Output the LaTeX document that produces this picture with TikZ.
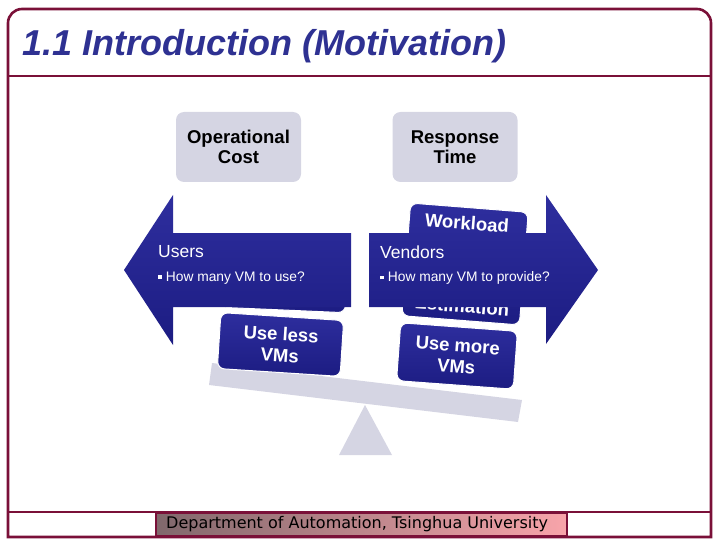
\documentclass[tikz,border=0pt]{standalone}
\usepackage{fontspec}
\setmainfont{Liberation Sans}
\newfontfamily\footfont{DejaVu Sans}
\definecolor{frameC}{RGB}{122,16,56}
\definecolor{titleC}{RGB}{46,49,146}
\definecolor{blueTop}{RGB}{46,46,158}
\definecolor{blueBot}{RGB}{28,28,130}
\definecolor{grayC}{RGB}{213,213,227}
\definecolor{footL}{RGB}{128,104,108}
\definecolor{footR}{RGB}{248,164,170}
\tikzset{
  frameline/.style={draw=frameC, line width=2.6pt},
  graybox/.style={fill=grayC, rounded corners=8pt, minimum width=125pt, minimum height=70pt,
    align=center, inner sep=0pt, font=\fontsize{18.5pt}{20pt}\selectfont\bfseries},
  bluebox/.style={draw=white, line width=1pt, rounded corners=7pt, top color=blueTop, bottom color=blueBot,
    inner sep=0pt},
  boxtext/.style={text=white, align=center, inner sep=0pt, font=\fontsize{18.5pt}{21pt}\selectfont\bfseries},
  arrowfill/.style={top color=blueTop, bottom color=blueBot},
  headtext/.style={text=white, anchor=west, inner sep=0pt, font=\fontsize{17.5pt}{20pt}\selectfont},
  subtext/.style={text=white, anchor=west, inner sep=0pt, font=\fontsize{13.8pt}{16pt}\selectfont},
  balance/.style={fill=grayC}
}
\newcommand{\sqbul}{\rule[0.3ex]{0.28em}{0.28em}}
\begin{document}
\begin{tikzpicture}[x=1pt,y=-1pt]
\useasboundingbox (0,0) rectangle (720,540);
% frame
\draw[frameline] (8,537) -- (8,200) [rounded corners=14pt] -- (8,9) -- (711,9) -- (711,200) [sharp corners] -- (711,537) -- cycle;
\draw[frameline] (8,76) -- (711,76);
\draw[frameline] (8,512) -- (711,512);
% title
\node[anchor=base west, inner sep=0pt, text=titleC, font=\fontsize{36pt}{40pt}\selectfont\bfseries\itshape] (title) at (22,56) {1.1 Introduction (Motivation)};
% footer
\shade[left color=footL, right color=footR] (156,513.5) rectangle (567,535.5);
\draw[draw=frameC, line width=1.2pt] (156,513.5) rectangle (567,535.5);
\node[anchor=west, inner sep=0pt, font=\footfont\fontsize{16pt}{18pt}\selectfont] (foot) at (166,524.5) {Department of Automation, Tsinghua University};
% gray boxes
\node[graybox] (cost) at (238.5,147) {Operational\\Cost};
\node[graybox] (resp) at (455,147) {Response\\Time};
% balance beam and fulcrum
\fill[balance] (212,363) -- (522,400) -- (518,422) -- (209,385) -- cycle;
\fill[balance] (365,405) -- (392,455) -- (339,455) -- cycle;
% boxes behind arrows
\node[bluebox, minimum width=125pt, minimum height=60pt, rotate=-2.5] (hidden) at (284,280) {};
\node[bluebox, minimum width=118pt, minimum height=113pt, rotate=-4.5] (work) at (465,264) {};
\node[boxtext, rotate=-4.5] (worktxt) at (467,223) {Workload};
\node[boxtext, rotate=-4.5] (esttxt) at (462,306) {Estimation};
% arrows
\shade[arrowfill] (124,270) -- (173,195) -- (173,233) -- (351,233) -- (351,307) -- (173,307) -- (173,345) -- cycle;
\shade[arrowfill] (598,270) -- (546,195) -- (546,233) -- (369,233) -- (369,307) -- (546,307) -- (546,344) -- cycle;
\node[headtext] (users) at (158,252) {Users};
\node[subtext] (usersq) at (158,278) {\sqbul\ How many VM to use?};
\node[headtext] (vend) at (380,252) {Vendors};
\node[subtext] (vendq) at (380,278) {\sqbul\ How many VM to provide?};
% lower boxes
\node[bluebox, boxtext, minimum width=123pt, minimum height=56pt, rotate=-3.7] (less) at (280.5,344.5) {Use less\\VMs};
\node[bluebox, boxtext, minimum width=117pt, minimum height=58pt, rotate=-4.2] (more) at (457,356) {Use more\\VMs};
\end{tikzpicture}
\end{document}
